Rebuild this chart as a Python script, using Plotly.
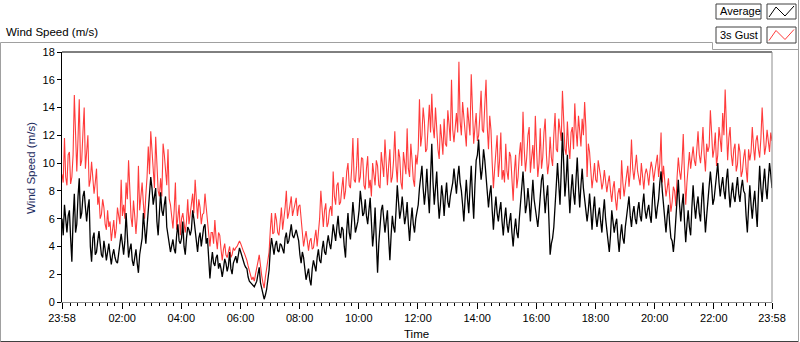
import pandas as pd
import plotly.graph_objects as go

# ---------------- data ----------------
# main samples every 5 min from 23:58, plus the samples read between them (2.5 min later)
start_time = "2024-01-01 23:58"
step = "150s"

gust_3s_main = [
    9.2, 11.8, 8.4, 10.8, 9.0,
    14.9, 9.4, 14.6, 10.2, 14.0,
    11.3, 8.3, 10.1, 7.8, 9.6,
    7.6, 6.3, 6.8, 5.2, 5.4,
    4.4, 5.9, 5.3, 6.2, 8.8,
    7.0, 8.6, 10.2, 6.1, 7.3,
    4.9, 9.8, 7.4, 7.1, 7.7,
    11.2, 12.3, 9.5, 11.9, 8.0,
    8.9, 11.4, 9.6, 11.0, 7.0,
    5.3, 8.6, 6.0, 4.8, 6.4,
    5.0, 7.4, 6.5, 7.8, 8.8,
    6.0, 6.8, 6.3, 7.8, 5.8,
    4.0, 5.0, 5.9, 3.8, 4.8,
    3.0, 4.2, 3.2, 4.0, 3.4,
    3.7, 4.0, 4.4, 3.9, 3.5,
    3.0, 2.2, 1.6, 1.5, 2.6,
    3.4, 1.9, 1.0, 2.3, 3.6,
    6.4, 5.0, 5.9, 4.8, 6.8,
    5.9, 8.0, 6.4, 7.6, 6.6,
    7.5, 6.9, 5.8, 4.0, 5.1,
    3.7, 4.6, 3.9, 5.2, 4.8,
    8.0, 5.4, 7.1, 5.7, 6.9,
    9.4, 7.0, 8.6, 7.2, 9.0,
    8.0, 10.0, 8.2, 11.8, 8.6,
    11.8, 9.0, 10.3, 8.1, 10.5,
    8.8, 10.0, 8.4, 9.8, 8.2,
    9.9, 11.7, 8.4, 11.0, 9.0,
    12.3, 8.6, 10.4, 8.1, 10.0,
    12.5, 9.0, 10.2, 8.3, 9.9,
    14.6, 12.0, 13.0, 11.0, 14.2,
    15.0, 11.8, 12.2, 10.3, 11.8,
    13.2, 11.2, 12.8, 16.0, 11.5,
    13.6, 17.3, 12.0, 13.4, 11.2,
    13.0, 16.4, 11.4, 13.6, 12.0,
    15.2, 12.2, 16.0, 11.0, 12.4,
    8.2, 11.0, 9.0, 12.2, 9.5,
    11.4, 8.8, 10.5, 7.3, 10.6,
    9.0, 11.5, 13.7, 9.4, 12.0,
    9.3, 11.3, 13.4, 9.0, 12.5,
    10.4, 13.2, 9.2, 11.9, 9.8,
    13.6, 10.8, 12.4, 15.2, 11.0,
    13.0, 10.3, 12.6, 14.3, 11.2,
    12.0, 13.2, 14.4, 9.0, 10.8,
    8.2, 10.0, 8.6, 9.7, 8.1,
    9.5, 7.9, 9.1, 7.2, 8.7,
    6.6, 8.2, 10.2, 7.6, 9.4,
    8.3, 11.7, 8.8, 10.6, 9.0,
    10.0, 8.1, 9.6, 8.4, 10.1,
    8.7, 10.0, 9.0, 12.2, 9.8,
    7.6, 8.9, 6.5, 8.3, 6.9,
    10.4, 8.8, 12.1, 7.0, 9.8,
    9.6, 11.2, 9.8, 12.3, 10.0,
    12.6, 9.4, 10.8, 13.8, 10.4,
    12.2, 10.6, 11.6, 13.6, 15.3,
    10.2, 12.6, 9.8, 11.4, 9.9,
    10.8, 9.4, 11.0, 8.6, 10.2,
    12.6, 10.2, 12.0, 10.4, 14.0,
    10.6, 12.4, 10.8, 11.6,
]

gust_3s_between = [
    8.6, 9.0, 10.6, 8.5, 10.6,
    12.0, 11.8, 9.8, 12.2, 9.6,
    12.0, 8.8, 9.2, 8.6, 7.0,
    6.0, 7.4, 5.6, 6.6, 5.8,
    5.2, 4.6, 6.8, 5.6, 6.2,
    6.0, 7.4, 7.6, 5.4, 6.2,
    6.2, 6.6, 8.6, 6.0, 9.0,
    9.2, 10.6, 8.2, 9.6, 7.6,
    7.6, 10.6, 8.4, 7.4, 6.0,
    6.6, 5.2, 7.0, 6.0, 5.6,
    5.8, 5.6, 7.0, 6.4, 7.4,
    7.4, 5.6, 6.4, 6.8, 4.6,
    5.0, 4.2, 4.6, 5.0, 3.8,
    3.8, 3.4, 3.6, 3.2, 3.9,
    3.9, 4.2, 4.2, 3.7, 3.3,
    2.6, 1.9, 1.8, 2.0, 2.9,
    2.4, 1.4, 1.8, 2.8, 5.2,
    4.9, 6.4, 5.0, 5.8, 5.2,
    6.8, 6.0, 7.0, 6.2, 7.0,
    6.2, 7.0, 4.8, 4.6, 4.4,
    4.4, 3.8, 4.6, 4.0, 6.0,
    6.2, 6.6, 5.4, 6.6, 6.2,
    7.6, 8.4, 7.0, 8.2, 7.4,
    9.4, 8.4, 9.6, 8.8, 9.8,
    8.6, 10.4, 8.4, 9.6, 8.2,
    7.6, 9.2, 10.2, 8.4, 10.8,
    9.0, 10.0, 9.8, 8.6, 10.2,
    9.8, 11.0, 8.6, 10.8, 9.2,
    9.6, 11.4, 8.8, 10.6, 11.0,
    11.2, 14.0, 10.8, 12.6, 12.2,
    12.6, 14.0, 11.0, 12.8, 10.6,
    11.4, 13.8, 11.6, 12.4, 13.0,
    12.2, 13.0, 14.4, 11.8, 14.0,
    12.0, 13.2, 12.6, 11.6, 13.4,
    12.4, 14.2, 12.6, 13.4, 10.0,
    9.6, 12.0, 10.2, 8.8, 8.6,
    9.4, 10.8, 8.4, 9.4, 8.2,
    10.6, 9.8, 11.0, 10.4, 12.6,
    10.4, 9.6, 11.0, 10.0, 9.6,
    12.2, 10.6, 10.0, 10.4, 12.0,
    11.0, 13.2, 11.6, 12.8, 10.6,
    11.2, 12.2, 11.0, 12.4, 13.4,
    11.2, 12.0, 12.6, 11.4, 9.0,
    9.0, 8.8, 10.2, 9.0, 8.6,
    8.4, 8.6, 8.0, 8.2, 7.4,
    7.8, 7.4, 8.6, 8.4, 9.8,
    9.4, 9.6, 9.8, 9.4, 8.4,
    8.8, 9.2, 9.2, 9.4, 9.6,
    9.4, 10.6, 10.0, 8.6, 8.8,
    8.2, 7.6, 7.2, 8.0, 9.0,
    9.4, 10.0, 9.2, 8.6, 10.8,
    10.6, 10.2, 11.0, 10.6, 11.0,
    10.6, 11.4, 11.2, 12.2, 11.0,
    9.8, 12.6, 10.8, 12.0, 12.6,
    11.8, 10.6, 11.0, 9.4, 11.4,
    9.0, 10.4, 9.6, 11.0, 10.8,
    11.2, 11.6, 11.0, 11.8, 12.2,
    11.2, 11.6, 12.2,
]

average_main = [
    6.0, 7.0, 5.0, 6.6, 2.9,
    7.8, 5.6, 8.9, 6.4, 8.0,
    5.8, 7.4, 2.9, 5.0, 3.6,
    5.1, 3.4, 4.4, 3.0, 4.2,
    2.7, 3.8, 2.9, 3.4, 4.9,
    3.4, 6.4, 3.2, 4.2, 2.6,
    3.8, 2.1, 4.0, 6.4, 4.2,
    6.4, 9.0, 7.0, 8.2, 4.8,
    7.9, 6.2, 7.6, 4.6, 3.6,
    4.5, 3.5, 5.6, 4.2, 5.8,
    3.4, 5.4, 4.8, 6.6, 5.2,
    3.6, 5.0, 4.8, 5.6, 4.6,
    1.7, 3.6, 2.6, 3.4, 2.8,
    1.8, 3.1, 2.2, 3.6, 2.0,
    3.0, 2.8, 3.9, 3.3, 2.7,
    2.4, 1.5, 1.3, 1.1, 1.5,
    2.5, 1.0, 0.2, 0.9, 2.3,
    4.6, 3.4, 4.4, 3.6, 4.1,
    3.5, 5.0, 4.4, 5.6, 4.6,
    5.2, 4.4, 2.8, 3.2, 1.6,
    2.4, 1.2, 3.0, 2.2, 3.8,
    2.8, 4.4, 3.4, 4.8, 3.8,
    5.6, 4.4, 6.2, 4.6, 5.2,
    3.2, 6.4, 4.5, 7.2, 5.0,
    5.8, 8.0, 6.2, 7.4, 5.6,
    7.5, 4.0, 6.8, 2.1, 5.8,
    7.0, 5.0, 6.6, 3.0, 6.2,
    5.0, 8.4, 6.0, 7.6, 5.6,
    7.2, 4.4, 6.8, 5.0, 6.5,
    8.2, 9.8, 7.0, 9.6, 6.4,
    11.4, 7.0, 9.4, 6.0, 8.4,
    6.2, 8.6, 6.8, 8.2, 9.6,
    7.8, 9.8, 8.0, 5.8, 8.8,
    6.4, 9.8, 6.0, 10.2, 11.7,
    8.8, 11.0, 9.0, 6.8, 8.4,
    5.2, 7.6, 5.8, 7.2, 4.8,
    6.8, 5.0, 6.4, 4.0, 6.0,
    4.6, 7.0, 9.4, 6.4, 8.2,
    5.8, 8.8, 6.6, 5.4, 8.0,
    9.2, 6.4, 8.4, 3.4, 4.6,
    6.6, 10.0, 7.0, 12.2, 7.6,
    10.6, 6.4, 9.2, 7.0, 10.4,
    6.8, 9.6, 7.4, 5.8, 7.8,
    5.2, 7.6, 5.4, 6.8, 5.0,
    7.4, 5.2, 3.6, 6.6, 5.0,
    6.0, 3.6, 5.6, 4.2, 6.2,
    7.6, 5.4, 6.9, 5.6, 7.2,
    5.8, 7.8, 6.0, 7.0, 5.7,
    8.6, 6.0, 7.4, 9.4, 7.0,
    5.0, 7.0, 4.6, 3.6, 6.0,
    8.8, 5.8, 7.8, 4.3, 6.6,
    4.8, 8.4, 6.0, 7.6, 5.8,
    8.6, 5.0, 7.2, 9.4, 7.0,
    8.2, 10.0, 7.6, 9.0, 7.4,
    9.6, 6.8, 8.6, 7.2, 9.0,
    7.2, 8.8, 7.8, 5.0, 8.4,
    6.0, 8.0, 5.4, 9.8, 7.2,
    9.6, 7.4, 10.0, 8.2,
]

average_between = [
    4.8, 5.8, 6.2, 4.6, 6.0,
    5.0, 7.6, 6.0, 7.6, 6.8,
    6.8, 4.0, 4.6, 3.4, 4.4,
    4.2, 3.2, 3.8, 3.6, 3.4,
    3.4, 3.2, 2.8, 4.0, 4.2,
    4.4, 4.8, 3.8, 3.0, 3.2,
    2.8, 3.4, 4.6, 5.0, 5.4,
    7.4, 8.2, 7.6, 5.8, 6.4,
    6.6, 7.0, 5.4, 4.2, 4.0,
    3.8, 4.8, 4.4, 4.6, 4.0,
    4.6, 5.2, 5.2, 6.0, 4.2,
    4.6, 4.0, 5.4, 4.2, 3.2,
    2.8, 2.8, 3.2, 2.4, 2.4,
    2.4, 2.8, 2.6, 2.4, 2.8,
    3.3, 3.4, 3.6, 2.9, 2.5,
    1.8, 1.4, 1.2, 1.3, 2.0,
    1.4, 0.7, 0.5, 1.6, 3.8,
    4.0, 4.1, 3.7, 4.2, 3.8,
    4.6, 4.2, 5.0, 4.8, 4.9,
    4.8, 3.4, 3.6, 2.4, 2.0,
    1.6, 2.4, 2.6, 3.2, 3.0,
    3.8, 3.6, 4.2, 4.2, 4.6,
    5.0, 5.4, 5.0, 5.4, 4.0,
    5.2, 5.0, 5.8, 6.2, 5.4,
    6.6, 7.2, 6.4, 6.2, 6.6,
    5.8, 5.0, 4.4, 4.2, 6.6,
    5.8, 5.8, 4.6, 4.8, 5.4,
    6.6, 7.2, 6.6, 6.6, 6.2,
    5.6, 5.8, 5.6, 6.0, 7.0,
    9.0, 8.2, 8.0, 7.8, 9.0,
    8.6, 8.2, 7.4, 7.0, 7.6,
    7.6, 7.2, 7.6, 8.6, 8.8,
    9.0, 8.6, 7.0, 7.4, 7.4,
    8.2, 7.6, 8.4, 10.6, 10.0,
    9.6, 10.2, 7.6, 7.8, 6.6,
    6.6, 6.4, 6.6, 5.8, 6.0,
    5.6, 5.8, 5.0, 5.2, 5.0,
    6.0, 8.0, 8.0, 7.0, 7.2,
    7.4, 7.4, 6.2, 6.4, 8.8,
    7.6, 7.6, 6.0, 4.2, 5.4,
    8.4, 8.2, 9.4, 10.0, 8.8,
    8.2, 8.0, 7.8, 8.8, 8.4,
    8.4, 8.2, 6.8, 6.6, 6.6,
    6.6, 6.2, 6.2, 5.8, 6.4,
    6.0, 4.6, 4.8, 5.8, 5.6,
    4.6, 4.8, 4.6, 5.4, 6.6,
    6.2, 6.4, 6.0, 6.6, 6.2,
    7.0, 6.6, 6.6, 6.2, 7.4,
    7.0, 6.8, 8.6, 8.0, 6.2,
    6.2, 5.6, 4.4, 4.6, 7.6,
    7.0, 7.0, 5.8, 5.6, 5.4,
    6.8, 7.0, 7.0, 6.4, 7.4,
    6.6, 6.2, 8.0, 8.4, 7.4,
    9.2, 8.6, 8.4, 8.0, 8.8,
    8.0, 7.8, 7.6, 8.2, 7.8,
    8.2, 8.0, 6.2, 6.8, 7.0,
    7.2, 6.6, 7.8, 8.2, 8.6,
    8.2, 8.8, 9.2,
]

y_ticks = [0, 2, 4, 6, 8, 10, 12, 14, 16, 18]
x_tick_labels = ["23:58", "02:00", "04:00", "06:00", "08:00", "10:00", "12:00",
                 "14:00", "16:00", "18:00", "20:00", "22:00", "23:58"]


def interleave(main, between):
    out = []
    for k, v in enumerate(main):
        out.append(v)
        if k < len(between) and k < len(main) - 1:
            out.append(between[k])
    return out


gust_3s = interleave(gust_3s_main, gust_3s_between)
average = interleave(average_main, average_between)

# ---------------- helpers ----------------
W, H = 800, 342


def PX(x):
    return x / W


def PY(y):
    return 1 - y / H


t_avg = pd.date_range(start_time, periods=len(average), freq=step)
t_gust = pd.date_range(start_time, periods=len(gust_3s), freq=step)
t0 = pd.Timestamp(start_time)
t1 = t0 + pd.Timedelta(days=1)
day2 = t0.normalize() + pd.Timedelta(days=1)
major_vals = [t0] + [day2 + pd.Timedelta(hours=h) for h in range(2, 24, 2)] + [t1]
minor_vals = [day2 + pd.Timedelta(minutes=15 * k) for k in range(0, 96)
              if (15 * k) % 120 != 0]
minor_vals = [v for v in minor_vals if t0 < v < t1]

RED = "#ff3b3b"
fig = go.Figure()
fig.add_trace(go.Scatter(x=t_gust, y=gust_3s, mode="lines", name="3s Gust",
                         line=dict(color=RED, width=1.1), showlegend=False))
fig.add_trace(go.Scatter(x=t_avg, y=average, mode="lines", name="Average",
                         line=dict(color="#000000", width=1.3), showlegend=False))

font = "Liberation Sans"
fig.update_layout(
    width=W, height=H, autosize=False,
    margin=dict(l=0, r=0, t=0, b=0, pad=0),
    paper_bgcolor="white", plot_bgcolor="white",
    font=dict(family=font, size=11, color="#000000"),
    xaxis=dict(
        domain=[PX(62), PX(772)],
        range=[t0, t1], automargin=False,
        tickmode="array", tickvals=major_vals, ticktext=x_tick_labels,
        ticks="outside", ticklen=6, tickwidth=1, tickcolor="#000000",
        minor=dict(tickmode="array", tickvals=minor_vals, ticks="outside",
                   ticklen=3, tickwidth=1, tickcolor="#000000", showgrid=False),
        showgrid=False, zeroline=False,
        showline=True, linecolor="#8c8c8c", linewidth=1,
        tickfont=dict(family=font, size=11, color="#000000"),
    ),
    yaxis=dict(
        domain=[PY(302), PY(52)],
        range=[0, 18], automargin=False,
        tickmode="array", tickvals=y_ticks,
        ticks="outside", ticklen=4, tickwidth=1, tickcolor="#000000",
        showgrid=False, zeroline=False,
        showline=True, linecolor="#000000", linewidth=1,
        tickfont=dict(family=font, size=11, color="#000000"),
    ),
)

shapes = []


def line(x0, y0, x1, y1, color, width=1):
    shapes.append(dict(type="line", xref="paper", yref="paper",
                       x0=PX(x0), y0=PY(y0), x1=PX(x1), y1=PY(y1),
                       line=dict(color=color, width=width), layer="above"))


def rect(x0, y0, x1, y1, color):
    shapes.append(dict(type="rect", xref="paper", yref="paper",
                       x0=PX(x0), y0=PY(y0), x1=PX(x1), y1=PY(y1),
                       line=dict(color=color, width=1), fillcolor="white",
                       layer="above"))


# outer chart frame
line(0.5, 42.5, 712.5, 42.5, "#a0a0a0")
line(0.5, 42.5, 0.5, 341.5, "#a0a0a0")
line(0.5, 341.5, 798.5, 341.5, "#404040")
line(798.5, 0, 798.5, 341.5, "#a0a0a0")
# legend panel frame
line(712.5, 42.5, 712.5, 49.5, "#a0a0a0")
line(712.5, 49.5, 798.5, 49.5, "#a0a0a0")
# plot area border (top dark, right light)
line(62, 52, 772, 52, "#000000")
line(772, 52, 772, 302, "#8c8c8c")

# legend boxes
rect(716, 4, 761, 19, "#404040")
rect(767, 4, 796, 19, "#404040")
rect(716, 27, 761, 43, "#404040")
rect(767, 27, 796, 43, "#404040")


def zigzag(ytop, color):
    pts = [(769, ytop + 13), (776, ytop + 3), (785, ytop + 12), (794, ytop + 2)]
    path = "M " + " L ".join(f"{PX(a)},{PY(b)}" for a, b in pts)
    shapes.append(dict(type="path", xref="paper", yref="paper", path=path,
                       line=dict(color=color, width=1), layer="above"))


zigzag(4, "#000000")
zigzag(27.5, RED)
fig.update_layout(shapes=shapes)


def label(text, x, y, size=11, color="#000000", anchor="left", angle=0):
    return dict(text=text, x=PX(x), y=PY(y), xref="paper", yref="paper",
                xanchor=anchor, yanchor="middle", showarrow=False, textangle=angle,
                font=dict(family=font, size=size, color=color))


annotations = [
    label("Wind Speed (m/s)", 4, 32, size=11.5),
    label("Average", 718, 11.5),
    label("3s Gust", 718, 35),
    label("Wind Speed (m/s)", 31, 168, size=11.5, color="#1c2b5e",
          anchor="center", angle=-90),
    label("Time", 416, 334, size=11.5, anchor="center"),
]
fig.update_layout(annotations=annotations)

fig.write_html("out.html",
               config={"displayModeBar": False},
               post_script="document.body.style.margin='0px';"
                           "document.body.style.overflow='hidden';")
